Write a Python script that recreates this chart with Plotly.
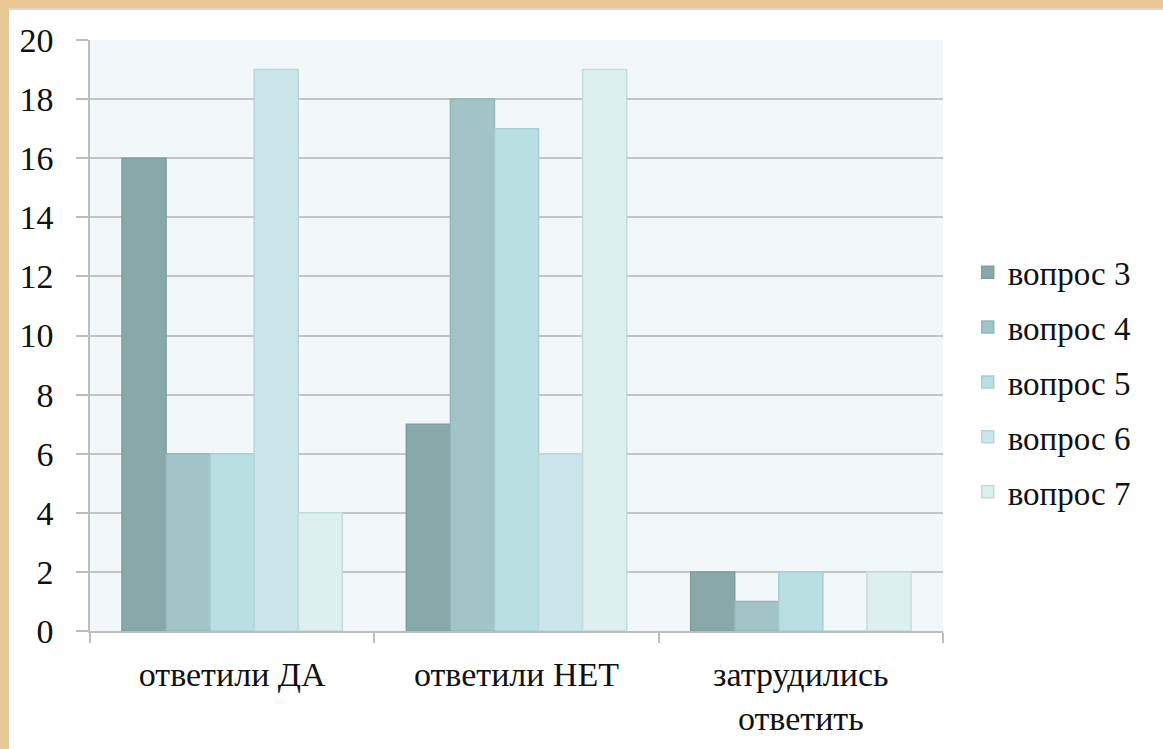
import plotly.graph_objects as go

categories = ["ответили ДА", "ответили НЕТ", "затрудились<br>ответить"]
series_names = ["вопрос 3", "вопрос 4", "вопрос 5", "вопрос 6", "вопрос 7"]
q3 = [16, 7, 2]
q4 = [6, 18, 1]
q5 = [6, 17, 2]
q6 = [19, 6, 0]
q7 = [4, 19, 2]
values = [q3, q4, q5, q6, q7]
y_ticks = [0, 2, 4, 6, 8, 10, 12, 14, 16, 18, 20]

fill_colors = ["#89a8a9", "#a2c4c6", "#b9dfe2", "#cbe6ea", "#ddefef"]
line_colors = ["#7f9d9e", "#94b6b8", "#a7cfd2", "#b7d6da", "#c3dcdc"]

FONT = "'Times New Roman', 'Liberation Serif', 'DejaVu Serif', serif"

fig = go.Figure()
for name, vals, fc, lc in zip(series_names, values, fill_colors, line_colors):
    fig.add_trace(go.Bar(
        name=name, x=categories, y=vals, legendgroup=name,
        marker=dict(color=fc, line=dict(color=lc, width=1.5)),
    ))

fig.update_layout(
    width=1163, height=749,
    margin=dict(l=90, r=220, t=40, b=118),
    paper_bgcolor="#e9c896",
    plot_bgcolor="#f2f8fa",
    barmode="group", bargap=0.225, bargroupgap=0,
    font=dict(family=FONT, size=32, color="#111111"),
    showlegend=True,
    legend=dict(x=1.029, xanchor="left", y=0.421, yanchor="middle",
                font=dict(family=FONT, size=33, color="#111111"),
                bgcolor="rgba(0,0,0,0)", tracegroupgap=9, itemwidth=30),
    shapes=[
        dict(type="rect", xref="paper", yref="paper", x0=-0.095, x1=1.3,
             y0=-0.25, y1=1.0508, fillcolor="white", line=dict(width=0), layer="below"),
        dict(type="rect", xref="paper", yref="paper", x0=-0.095, x1=1.3,
             y0=1.0508, y1=1.0538, fillcolor="#d8d8d8", line=dict(width=0), layer="below"),
        dict(type="rect", xref="paper", yref="paper", x0=0, x1=1,
             y0=0, y1=1, fillcolor="#f2f8fa", line=dict(width=0), layer="below"),
    ],
)
fig.update_xaxes(
    showline=True, linecolor="#bdbdbd", linewidth=1.5,
    ticks="outside", tickson="boundaries", ticklen=10, tickcolor="#bdbdbd", tickwidth=1.5,
    tickfont=dict(family=FONT, size=34, color="#111111"),
    ticklabelstandoff=12,
    showgrid=False,
)
fig.update_yaxes(
    range=[0, 20], tickvals=y_ticks,
    showline=True, linecolor="#bdbdbd", linewidth=1.5,
    ticks="outside", ticklen=12, tickcolor="#bdbdbd", tickwidth=1.5,
    showgrid=True, gridcolor="#c4c4c4", gridwidth=1.5,
    zeroline=False,
    tickfont=dict(family=FONT, size=34, color="#111111"),
    ticklabelstandoff=16,
)

fig.write_html("out.html", config={"displayModeBar": False},
               post_script="document.body.style.margin='0';")
